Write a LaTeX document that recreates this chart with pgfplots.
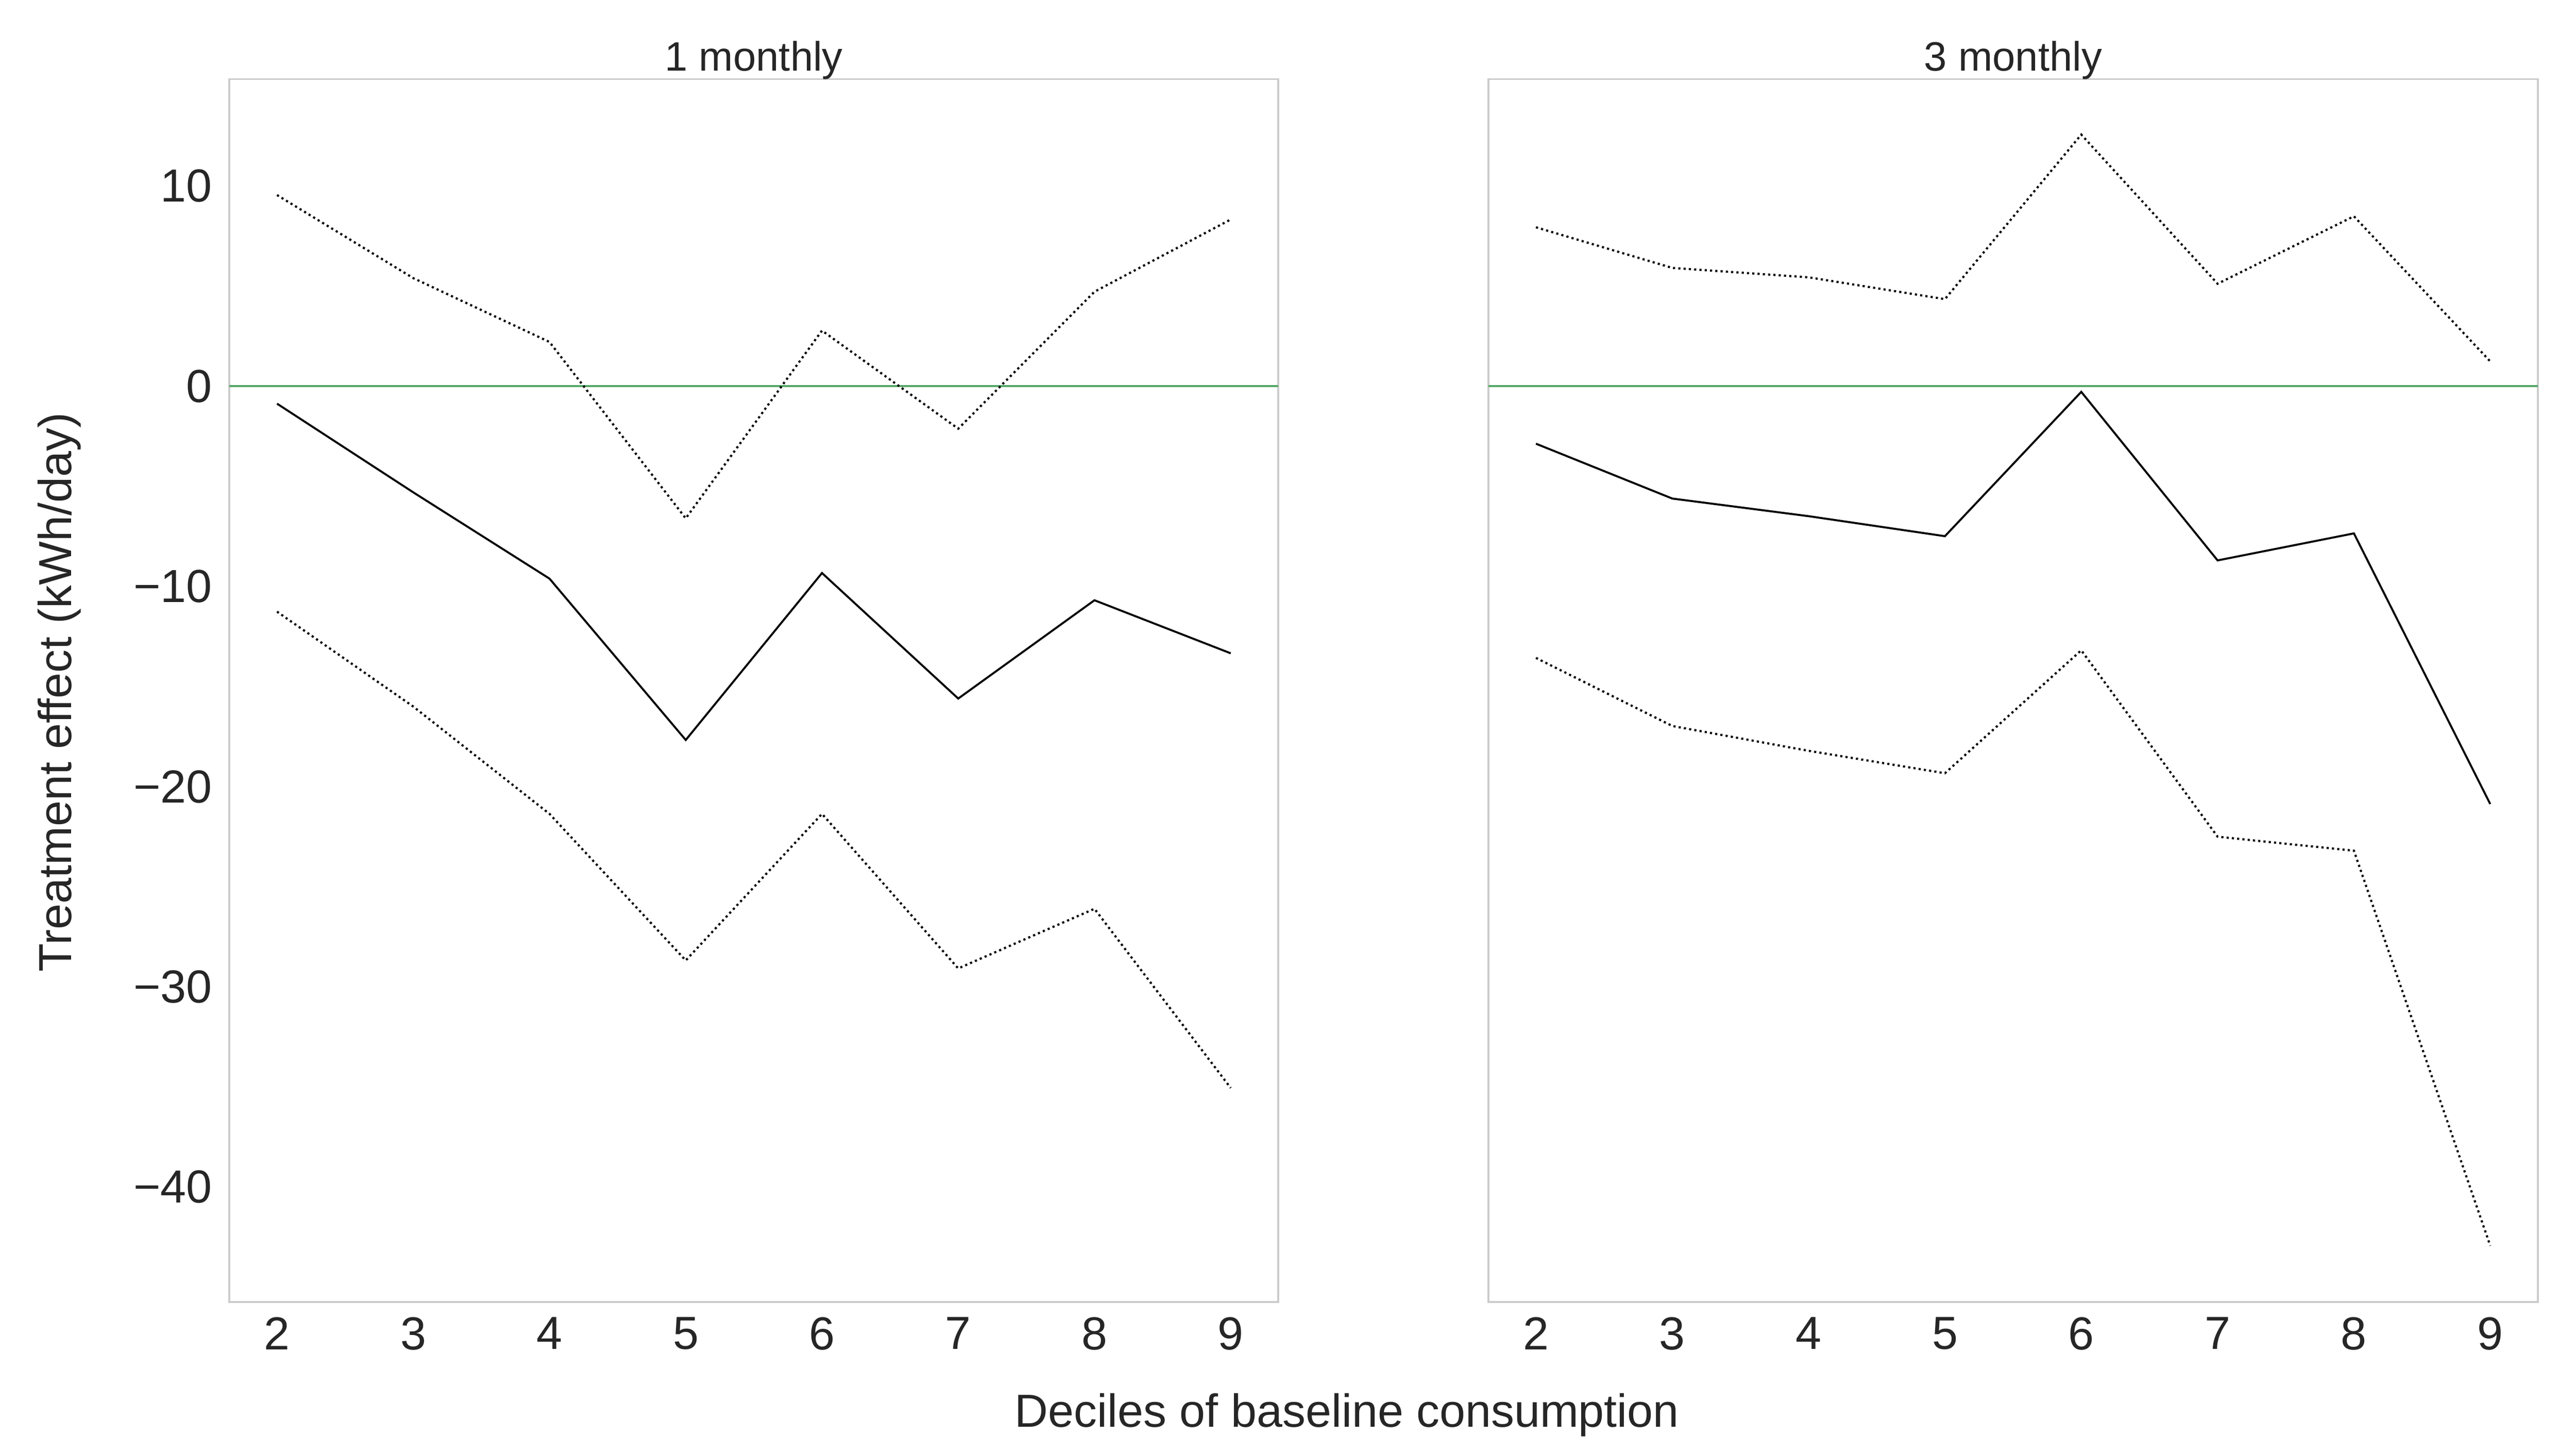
\documentclass[border=0pt]{standalone}
\usepackage{fontspec}
\setmainfont{Liberation Sans}
\usepackage{pgfplots}
\pgfplotsset{compat=1.18}
\definecolor{txt}{HTML}{262626}
\definecolor{spine}{HTML}{CCCCCC}
\definecolor{sgreen}{HTML}{55A868}
\pgfplotsset{
  panel/.style={
    anchor=south west, scale only axis, width=317pt, height=369.4pt,
    xmin=1.65, xmax=9.35, ymin=-45.75, ymax=15.34,
    xtick={2,3,4,5,6,7,8,9},
    xticklabels={2,3,4,5,6,7,8,9},
    ytick={-40,-30,-20,-10,0,10},
    major tick length=0pt,
    axis line style={draw=spine, line width=0.6pt},
    tick style={draw=none},
    ticklabel style={font=\fontsize{14}{16.8}\selectfont, text=txt},
    xticklabel style={inner sep=4.4pt},
    yticklabel style={inner sep=5pt},
    clip=true,
  },
  ci/.style={black, line width=0.65pt, line cap=butt, dash pattern=on 0.65pt off 0.95pt},
  est/.style={black, line width=0.6pt},
  zer/.style={sgreen, line width=0.6pt},
}
\begin{document}
\begin{tikzpicture}
\useasboundingbox (0,0) rectangle (778.4pt,438.4pt);
% left panel: 1 monthly
\begin{axis}[panel, at={(69.3pt,45.1pt)},
  yticklabels={−40,−30,−20,−10,0,10}]
\addplot[zer] coordinates {(1.65,0) (9.35,0)};
\addplot[est] coordinates {(2,-0.87) (3,-5.3) (4,-9.61) (5,-17.67) (6,-9.33) (7,-15.6) (8,-10.69) (9,-13.34)};
\addplot[ci] coordinates {(2,9.55) (3,5.4) (4,2.21) (5,-6.6) (6,2.78) (7,-2.12) (8,4.72) (9,8.33)};
\addplot[ci] coordinates {(2,-11.26) (3,-16.0) (4,-21.36) (5,-28.68) (6,-21.36) (7,-29.08) (8,-26.1) (9,-35.05)};
\end{axis}
% right panel: 3 monthly
\begin{axis}[panel, at={(449.7pt,45.1pt)}, width=317.2pt, yticklabels={}]
\addplot[zer] coordinates {(1.65,0) (9.35,0)};
\addplot[est] coordinates {(2,-2.87) (3,-5.61) (4,-6.49) (5,-7.49) (6,-0.28) (7,-8.7) (8,-7.35) (9,-20.87)};
\addplot[ci] coordinates {(2,7.94) (3,5.91) (4,5.44) (5,4.35) (6,12.57) (7,5.12) (8,8.49) (9,1.24)};
\addplot[ci] coordinates {(2,-13.57) (3,-16.97) (4,-18.21) (5,-19.33) (6,-13.19) (7,-22.5) (8,-23.2) (9,-42.93)};
\end{axis}
\node[anchor=base, inner sep=0pt, text=txt, font=\fontsize{12.4}{14.9}\selectfont] at (227.8pt,417.0pt) {1 monthly};
\node[anchor=base, inner sep=0pt, text=txt, font=\fontsize{12.4}{14.9}\selectfont] at (608.3pt,417.0pt) {3 monthly};
\node[anchor=base, inner sep=0pt, text=txt, font=\fontsize{14}{16.8}\selectfont] at (407.0pt,7.4pt) {Deciles of baseline consumption};
\node[anchor=base, inner sep=0pt, rotate=90, text=txt, font=\fontsize{14}{16.8}\selectfont] at (21.6pt,229.3pt) {Treatment effect (kWh/day)};
\end{tikzpicture}
\end{document}
